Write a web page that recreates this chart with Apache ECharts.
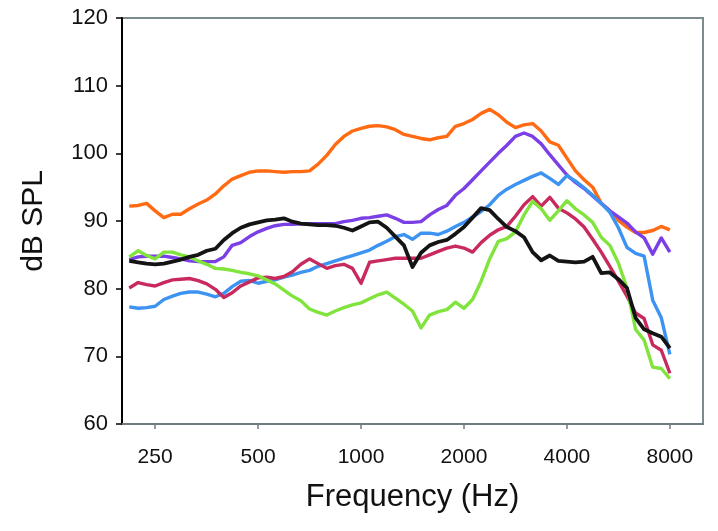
<!DOCTYPE html>
<html>
<head>
<meta charset="utf-8">
<style>html,body{margin:0;padding:0;background:#fff}#c{width:718px;height:531px}</style>
<script src="https://cdn.jsdelivr.net/npm/echarts@6/dist/echarts.min.js"></script>
</head>
<body>
<div id="c"></div>
<script>
// 1/12-octave frequencies (Hz)
var freqs = [210,223,236,250,265,281,297,315,334,354,375,397,420,445,472,500,530,561,595,630,667,707,749,794,841,891,944,1000,1059,1122,1189,1260,1335,1414,1498,1587,1682,1782,1888,2000,2119,2245,2378,2520,2670,2828,2997,3175,3364,3564,3776,4000,4238,4490,4757,5040,5339,5657,5993,6350,6727,7127,7551,8000];
var xTickLabels = [250,500,1000,2000,4000,8000];
var yTicks = [60,70,80,90,100,110,120];

var orange = [92.2,92.3,92.6,91.5,90.5,91.0,91.0,91.8,92.5,93.1,94.0,95.2,96.2,96.7,97.2,97.4,97.4,97.3,97.2,97.3,97.3,97.4,98.4,99.7,101.3,102.5,103.3,103.7,104.0,104.1,103.9,103.5,102.8,102.5,102.2,102.0,102.3,102.5,104.0,104.4,105.0,105.9,106.5,105.7,104.6,103.8,104.2,104.4,103.3,101.7,101.2,99.3,97.4,96.1,95.0,92.6,91.5,90.1,89.1,88.3,88.3,88.6,89.2,88.7];
var purple = [84.3,84.7,84.8,84.8,84.8,84.6,84.4,84.1,84.0,84.0,84.0,84.7,86.4,86.8,87.7,88.4,88.9,89.3,89.5,89.5,89.6,89.6,89.6,89.6,89.6,89.9,90.1,90.4,90.5,90.7,90.9,90.4,89.8,89.8,89.9,90.9,91.7,92.3,93.8,94.8,96.1,97.4,98.7,100.0,101.2,102.5,103.0,102.5,101.4,99.8,98.3,96.8,95.7,94.8,93.7,92.6,91.5,90.6,89.7,88.4,87.5,85.1,87.5,85.4];
var blue = [77.3,77.1,77.2,77.4,78.4,78.9,79.3,79.5,79.5,79.2,78.8,79.3,80.3,81.1,81.2,80.8,81.1,81.3,81.7,82.0,82.4,82.7,83.3,83.7,84.1,84.5,84.9,85.3,85.7,86.4,87.0,87.7,88.0,87.3,88.2,88.2,88.0,88.5,89.2,89.8,90.6,91.4,92.4,93.8,94.7,95.4,96.0,96.6,97.1,96.3,95.4,96.7,95.9,94.9,93.8,92.6,91.3,89.0,86.1,85.2,84.8,78.3,75.7,70.3];
var black = [84.1,83.9,83.7,83.6,83.7,84.0,84.3,84.7,85.0,85.6,85.9,87.2,88.2,89.0,89.5,89.8,90.1,90.2,90.4,89.9,89.6,89.5,89.4,89.4,89.3,89.0,88.6,89.2,89.8,89.9,89.0,87.7,86.4,83.2,85.3,86.4,86.9,87.2,88.1,89.1,90.5,91.9,91.6,90.3,89.1,88.5,87.6,85.4,84.2,84.9,84.1,84.0,83.9,84.0,84.7,82.3,82.4,81.4,80.1,75.7,74.0,73.4,72.9,71.2];
var magenta = [80.1,80.9,80.6,80.4,80.9,81.3,81.4,81.5,81.2,80.7,79.9,78.7,79.4,80.4,81.0,81.6,81.7,81.5,81.8,82.5,83.6,84.4,83.7,83.0,83.4,83.6,83.0,80.8,83.9,84.1,84.3,84.5,84.5,84.5,84.5,85.0,85.5,86.0,86.3,86.0,85.4,86.8,87.9,88.7,89.2,90.7,92.4,93.6,92.2,93.5,91.9,91.2,90.3,89.1,87.3,85.4,83.3,81.1,78.9,76.4,75.6,71.7,70.9,67.5];
var green = [84.7,85.6,84.9,84.4,85.4,85.4,85.0,84.7,84.1,83.6,83.0,82.9,82.7,82.4,82.2,81.9,81.3,80.7,79.8,78.9,78.2,77.0,76.5,76.1,76.7,77.2,77.6,77.9,78.5,79.1,79.5,78.6,77.7,76.7,74.2,76.1,76.6,76.9,78.0,77.1,78.4,81.1,84.4,87.0,87.4,88.4,90.9,92.9,91.8,90.1,91.5,93.0,91.8,90.9,89.8,87.6,86.4,83.8,80.1,74.0,72.4,68.4,68.2,66.7];

var seriesDefs = [
  {name:'orange', data:orange, color:'#FF6A12'},
  {name:'purple', data:purple, color:'#7B3FE6'},
  {name:'blue', data:blue, color:'#3D93F2'},
  {name:'magenta', data:magenta, color:'#C92A5E'},
  {name:'green', data:green, color:'#80E43C'},
  {name:'black', data:black, color:'#141414'}
];

function lg(f){ return Math.log(f)/Math.LN2; }

var chart = echarts.init(document.getElementById('c'), null, {renderer:'canvas'});
var font = '"Liberation Sans", Arial, Helvetica, sans-serif';
chart.setOption({
  animation:false,
  grid:{left:122, right:15, top:18, bottom:107, show:true, borderColor:'#7c8b8e', borderWidth:2, backgroundColor:'#fff'},
  xAxis:{
    type:'value', min:lg(200), max:lg(10000),
    name:'Frequency (Hz)', nameLocation:'middle', nameGap:58,
    nameTextStyle:{fontFamily:font, fontSize:31, color:'#111'},
    axisLine:{show:true, onZero:false, lineStyle:{color:'#6f7d80', width:2}},
    axisTick:{show:true, length:5, inside:false, lineStyle:{color:'#6f7d80', width:1.5}, customValues:xTickLabels.map(lg)},
    axisLabel:{fontFamily:font, fontSize:21, color:'#111', margin:23, customValues:xTickLabels.map(lg),
      formatter:function(v){ return String(Math.round(Math.pow(2,v))); }},
    splitLine:{show:false}
  },
  yAxis:{
    type:'value', min:60, max:120, interval:10,
    name:'dB SPL', nameLocation:'middle', nameGap:73, nameRotate:90,
    nameTextStyle:{fontFamily:font, fontSize:30, color:'#111'},
    axisLine:{show:true, lineStyle:{color:'#000', width:2}},
    axisTick:{show:true, length:6, lineStyle:{color:'#000', width:1.5}},
    axisLabel:{fontFamily:font, fontSize:22, color:'#111', margin:14},
    splitLine:{show:false}
  },
  series: seriesDefs.map(function(s){
    return {
      type:'line', name:s.name, showSymbol:false, symbol:'none',
      lineStyle:{color:s.color, width:s.name==='black'?3.8:3.4, join:'round'},
      itemStyle:{color:s.color},
      data: freqs.map(function(f,i){ return [lg(f), s.data[i]]; })
    };
  })
});
</script>
</body>
</html>
